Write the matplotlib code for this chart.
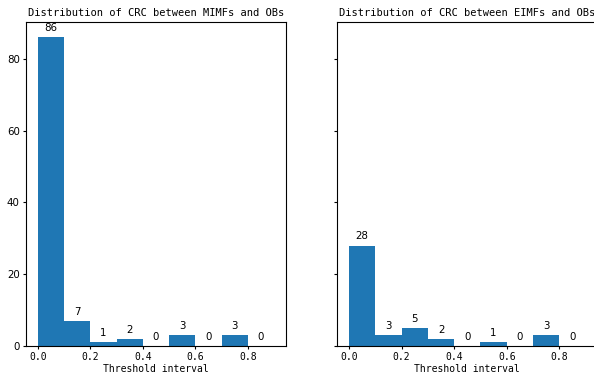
# CRC distribution histograms (MIMFs vs OBs, EIMFs vs OBs)
import numpy as np
import matplotlib
matplotlib.use("Agg")
import matplotlib.pyplot as plt

# --- data ---
BIN_EDGES = [0.0, 0.1, 0.2, 0.3, 0.4, 0.5, 0.6, 0.7, 0.8, 0.9]
COUNTS_MIMF = [86, 7, 1, 2, 0, 3, 0, 3, 0]
COUNTS_EIMF = [28, 3, 5, 2, 0, 1, 0, 3, 0]
TITLES = ["Distribution of CRC between MIMFs and OBs",
          "Distribution of CRC between EIMFs and OBs"]
XLABEL = "Threshold interval"

MONO = "DejaVu Sans Mono"
W, H = 594, 379

fig = plt.figure(figsize=(W / 100, H / 100), dpi=100)
ax_w, ax_h = 260 / W, 324 / H
bottom = 1 - 346 / H
ax1 = fig.add_axes([26 / W, bottom, ax_w, ax_h])
ax2 = fig.add_axes([337.3 / W, bottom, ax_w, ax_h], sharey=ax1)

for ax, counts, title in [(ax1, COUNTS_MIMF, TITLES[0]), (ax2, COUNTS_EIMF, TITLES[1])]:
    left_edges = BIN_EDGES[:-1]
    widths = np.diff(BIN_EDGES)
    bars = ax.bar(left_edges, counts, width=widths, align="edge", color="#1f77b4")
    ax.bar_label(bars, labels=[str(c) for c in counts], padding=3, fontsize=7.4)
    ax.set_title(title, fontsize=7.5, family=MONO, pad=4)
    ax.set_xlabel(XLABEL, fontsize=7.0, family=MONO, labelpad=1)
    ax.set_xticks([0.0, 0.2, 0.4, 0.6, 0.8])
    ax.set_xticklabels(["0.0", "0.2", "0.4", "0.6", "0.8"], family=MONO, fontsize=7.0)
    ax.tick_params(axis="both", length=2.5, pad=2)
    ax.tick_params(axis="y", labelsize=7.4)

ax1.set_yticks([0, 20, 40, 60, 80])
plt.setp(ax2.get_yticklabels(), visible=False)
# the right panel runs past the image edge in the reference
ax2.spines["right"].set_visible(False)

plt.savefig("out.png", dpi=100)
